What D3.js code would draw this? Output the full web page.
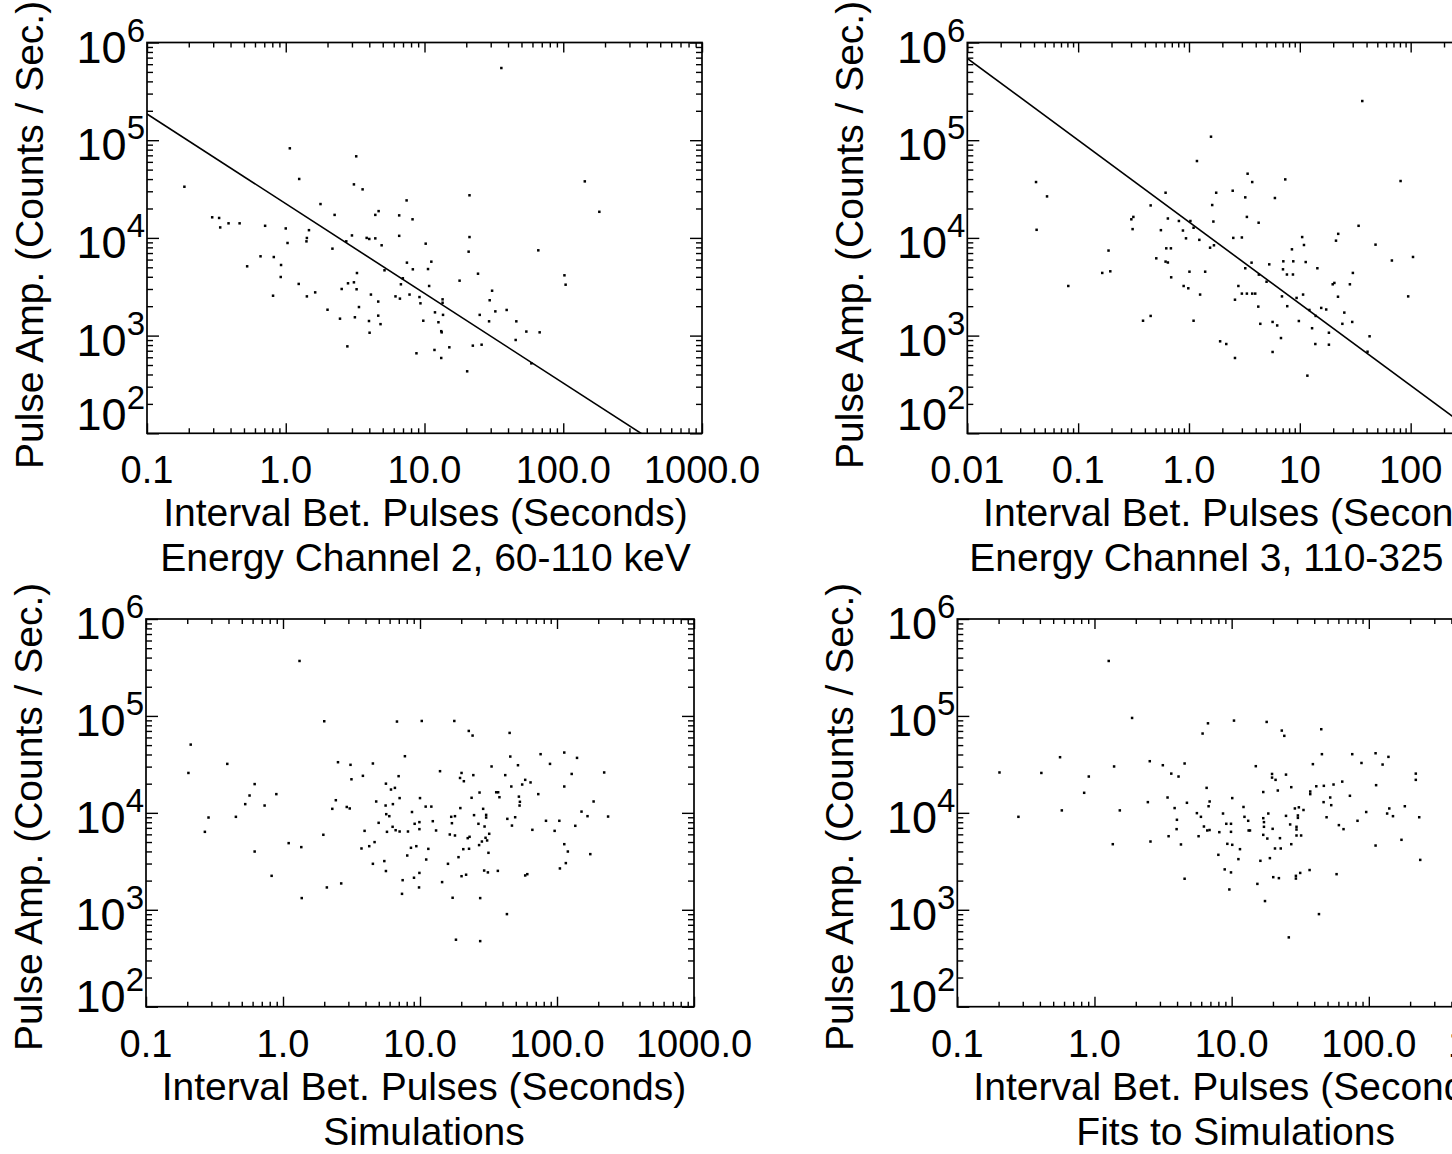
<!DOCTYPE html>
<html><head><meta charset="utf-8">
<script src="https://cdn.jsdelivr.net/npm/d3@7"></script>
<style>
body{margin:0;background:#fff}
svg{display:block;overflow:hidden}
text{font-family:"Liberation Sans",Arial,Helvetica,sans-serif;fill:#000}
</style>
</head><body>
<svg id="chart" width="1452" height="1154"></svg>
<script>
// ---------------- data ----------------
const ch2Points = [[0.186,33400],[0.295,16250],[0.331,16000],[0.337,12800],[0.387,14100],[0.465,14100],[0.527,5120],[0.658,6480],[0.71,13300],[0.82,6370],[0.81,2560],[0.925,5280],[0.92,3980],[1.0,12500],[1.03,8870],[1.07,82600],[1.25,40100],[1.24,3380],[1.42,9980],[1.41,9220],[1.47,12000],[1.42,2520],[1.63,2770],[1.78,22200],[2.25,17200],[2.17,7760],[2.0,1840],[2.46,1490],[2.53,3000],[2.73,9220],[2.81,3430],[2.78,776],[3.0,10600],[3.1,35300],[3.22,68400],[3.1,3510],[3.26,4370],[3.24,2980],[3.15,1540],[3.37,1960],[3.58,31400],[3.83,10000],[4.0,9750],[4.11,2630],[3.98,1410],[4.02,1070],[4.42,17200],[4.67,18800],[4.42,9890],[4.91,8400],[4.64,2230],[4.64,1600],[4.82,1310],[5.15,4660],[6.57,17000],[6.57,10500],[7.43,24200],[8.2,15500],[7.47,5580],[6.98,3860],[6.76,3350],[8.24,4770],[7.8,2630],[6.18,2520],[6.65,2390],[9.2,2480],[9.35,2140],[9.8,1420],[8.75,659],[10.2,8730],[10.6,4800],[10.8,3220],[11.2,5710],[13.5,2350],[13.5,2170],[13.6,1630],[11.9,1730],[12.6,1370],[13.2,1110],[13.3,1080],[11.8,713],[15.1,759],[13.2,590],[20.3,431],[21.1,27300],[21.1,10200],[20.8,7230],[24.3,4300],[17.9,3650],[22.3,789],[25.8,807],[25.0,1630],[30.7,2880],[29.5,2300],[32.4,1770],[29.2,1400],[39.1,1830],[45.9,1400],[54.2,1100],[67.6,1080],[45.4,902],[58.9,520],[66.1,7460],[35.8,548000],[143,37900],[182,18500],[102,4140],[104,3320]];

const ch3Points = [[0.0417,37300],[0.0524,26600],[0.0422,12100],[0.0815,3220],[0.165,4380],[0.195,4550],[0.188,7420],[0.302,15500],[0.315,16400],[0.31,12300],[0.451,21500],[0.385,1420],[0.451,1590],[0.507,6180],[0.558,12000],[0.615,29000],[0.645,15800],[0.624,7820],[0.687,7820],[0.615,5720],[0.645,5600],[0.691,3950],[0.811,14900],[0.882,11900],[0.94,9900],[0.895,3220],[0.986,3050],[1.01,4510],[1.03,14900],[1.10,12700],[1.24,9550],[1.18,61200],[1.26,2630],[1.10,1420],[1.40,4510],[1.55,7940],[1.68,8400],[1.58,108600],[1.62,21700],[1.66,14700],[1.76,29000],[2.48,30400],[2.51,10000],[3.0,10100],[3.22,26000],[3.33,16400],[3.38,45400],[3.72,37300],[4.25,14300],[3.67,5580],[3.22,4890],[4.27,4210],[2.79,3220],[3.0,2690],[3.33,2690],[3.72,2690],[3.96,2690],[2.6,2330],[4.22,1980],[4.40,1320],[1.91,874],[2.17,820],[2.6,590],[5.68,680],[5.3,5360],[5.01,3560],[5.96,25600],[7.39,39700],[5.68,1380],[6.25,1270],[6.76,944],[7.1,5760],[7.05,4770],[7.65,4220],[8.49,7640],[8.73,5760],[8.67,4220],[6.9,2520],[7.7,2000],[9.35,2430],[9.8,1410],[10.5,10200],[10.9,8460],[11.3,5660],[10.7,2630],[12.2,1830],[12.9,1190],[13.8,820],[11.7,389],[13.9,1590],[14.4,4890],[15.6,1920],[17.3,1850],[18.3,1070],[18.3,807],[19.8,3350],[20.5,3460],[22.1,2500],[21.2,9370],[22.2,11000],[25.2,1720],[24.2,1320],[28.3,3350],[30.1,4380],[29.7,1380],[33.9,13300],[36.6,251700],[42.6,984],[40.8,684],[48.2,8530],[67.7,5870],[81.1,38200],[95,2520],[105,6380]];

const simPoints = [[0.212,50600],[0.204,25800],[0.286,8950],[0.269,6370],[0.392,32000],[0.453,9100],[0.53,12300],[0.57,15100],[0.621,19800],[0.734,11900],[0.621,3990],[0.894,15600],[0.826,2240],[1.10,4870],[1.36,4430],[1.37,1320],[1.32,369000],[2.0,88100],[1.97,5940],[2.09,1700],[2.29,11000],[2.43,13500],[2.52,33300],[2.66,1870],[2.92,11500],[3.07,11100],[3.11,31300],[3.16,22200],[3.83,24100],[3.94,6520],[3.74,4290],[4.26,4530],[4.53,32300],[4.79,13100],[4.53,2980],[4.66,4990],[4.99,7890],[5.49,3180],[5.64,2510],[5.64,20000],[5.61,11900],[5.67,9690],[5.97,9240],[5.74,6370],[6.14,17400],[6.56,18100],[6.34,12300],[6.31,7180],[6.64,6620],[7.1,6420],[6.79,87500],[7.76,38400],[6.98,23900],[7.1,14200],[7.47,2020],[7.39,1460],[8.07,3630],[8.17,6420],[8.59,4360],[8.74,10200],[9.14,7710],[9.4,4530],[9.04,2140],[9.84,1700],[9.9,8020],[9.9,6790],[10.0,14200],[9.9,2400],[10.3,88700],[11.0,11600],[12.1,11600],[12.4,8200],[13.1,6580],[11.5,4250],[11.1,3300],[14.0,26900],[14.5,1930],[16.0,2980],[16.5,5980],[16.9,9100],[17.1,7820],[18.0,9240],[18.0,5840],[17.8,88700],[17.3,1330],[18.3,491],[19.1,3490],[19.7,11200],[19.6,22900],[20.9,21200],[20.1,25800],[20.1,2220],[21.7,2300],[20.7,4220],[22.3,5480],[22.8,4260],[23.0,5660],[22.7,70000],[24.2,62700],[23.8,14300],[24.5,24500],[24.8,9470],[27.2,16200],[26.7,7710],[27.0,4650],[27.5,1320],[27.5,475],[28.3,5060],[28.9,11000],[30.4,9530],[30.4,8950],[29.6,7230],[30.1,5530],[30.9,5190],[32.0,6080],[31.6,3870],[29.4,2540],[31.3,2430],[33.3,30100],[37.2,16300],[36.0,16300],[38.0,14500],[37.0,2520],[41.9,24500],[45.6,38100],[45.1,66800],[46.4,18700],[46.9,7390],[43.4,8670],[43.1,902],[49.5,9010],[51.9,31000],[52.7,14700],[53.6,13000],[53.3,11900],[55.7,19600],[58.6,21900],[64.1,20600],[58.6,2260],[60.7,2330],[66.1,6680],[73.0,15600],[75.9,40300],[83.1,8280],[88.9,32000],[96.1,6520],[104,8280],[105,2670],[113,41900],[113,18700],[113,4750],[116,3030],[120,3990],[128,25200],[136,7350],[140,36900],[151,10300],[167,9240],[175,3750],[185,13100],[221,26100],[236,9160]];

const fitSimPoints = [[0.203,26100],[0.279,9100],[0.41,25800],[0.561,37500],[0.578,10600],[0.841,16100],[0.909,23700],[1.27,369000],[1.36,4750],[1.39,30100],[1.53,10600],[1.88,95300],[2.45,12900],[2.53,34100],[2.56,5060],[3.15,31000],[3.41,14400],[3.47,5740],[3.63,25400],[3.84,11200],[3.99,8480],[3.97,6790],[4.1,23700],[4.27,4720],[4.54,32300],[4.72,12700],[4.54,2090],[5.58,9930],[5.97,9100],[5.74,5740],[6.14,65800],[6.72,83900],[6.57,18100],[6.91,13100],[6.79,11700],[6.28,7230],[6.64,6580],[6.9,6650],[8.65,9840],[9.14,7710],[9.89,7710],[9.89,6370],[10.1,14200],[10.4,89500],[9.3,4790],[10.1,4680],[8.0,3690],[8.9,2610],[9.89,2430],[9.62,1620],[8.13,6320],[11.2,3330],[11.5,4220],[12.2,11500],[12.4,9100],[13.2,8280],[13.3,6580],[13.6,6580],[15.0,30300],[15.4,1850],[16.2,3200],[17.0,16400],[17.0,8810],[17.2,8020],[17.2,7180],[17.0,5930],[17.5,1230],[18.0,86700],[18.5,9840],[18.2,5430],[19.0,3410],[19.7,25200],[19.7,23100],[19.9,6840],[20.9,21900],[20.1,2170],[20.7,4290],[21.7,17000],[22.1,2120],[22.5,5480],[22.8,4290],[23.2,70600],[24.2,62300],[24.9,24800],[24.9,9310],[26.7,7590],[27.2,18400],[27.2,4750],[26.1,519],[28.9,11100],[30.4,9400],[30.4,8880],[30.9,11400],[29.7,7180],[29.7,6730],[29.7,5840],[32.1,5840],[29.4,2240],[29.4,2100],[31.6,2400],[33.4,10700],[37.0,2570],[37.4,16600],[37.4,15600],[39.1,31800],[41.4,18800],[43.3,902],[45.0,72900],[45.5,40300],[46.8,12900],[47.0,19000],[49.2,9010],[52.3,14400],[53.2,12000],[55.3,19600],[58.2,2330],[60.5,7470],[64.0,21000],[65.4,6790],[72.8,15000],[75.7,40300],[82.7,8280],[88.4,32700],[95.7,10200],[112,41200],[113,19300],[112,4600],[126,31500],[139,37800],[141,11100],[136,9840],[150,9240],[173,5270],[183,11700],[220,25400],[220,21900],[233,9010],[237,3270]];

// power-law fits: y = norm * x^index
const ch2Fit = {norm: 22400, index: -0.918};
const ch3Fit = {norm: 14550, index: -0.837};

const xTicksA = [0.1, 1, 10, 100, 1000];
const xTickLabelsA = ["0.1", "1.0", "10.0", "100.0", "1000.0"];
const xTicksB = [0.01, 0.1, 1, 10, 100, 1000];
const xTickLabelsB = ["0.01", "0.1", "1.0", "10", "100", "1000"];
const yTicks = [1e2, 1e3, 1e4, 1e5, 1e6];
const yTickExponents = ["2", "3", "4", "5", "6"];
const yTitle = "Pulse Amp. (Counts / Sec.)";
const xTitle = "Interval Bet. Pulses (Seconds)";
const subtitles = ["Energy Channel 2, 60-110 keV", "Energy Channel 3, 110-325 keV", "Simulations", "Fits to Simulations"];

// ---------------- layout ----------------
const panels = [
  {pts: ch2Points, fit: ch2Fit, xDomain: [0.1, 1000], xt: xTicksA, xl: xTickLabelsA, sub: subtitles[0],
   left: 147, right: 702, top: 42.5, bottom: 433.3, lastDy: -3, yTitleDy: -3, xTitleDx: 1},
  {pts: ch3Points, fit: ch3Fit, xDomain: [0.01, 1000], xt: xTicksB, xl: xTickLabelsB, sub: subtitles[1],
   left: 967.3, right: 1521.5, top: 42.5, bottom: 433.3, lastDy: -3, yTitleDy: -3, xTitleDx: 1},
  {pts: simPoints, fit: null, xDomain: [0.1, 1000], xt: xTicksA, xl: xTickLabelsA, sub: subtitles[2],
   left: 146, right: 694, top: 619, bottom: 1006.7, lastDy: 5, yTitleDy: 4, xTitleDx: 4},
  {pts: fitSimPoints, fit: null, xDomain: [0.1, 1000], xt: xTicksA, xl: xTickLabelsA, sub: subtitles[3],
   left: 957.3, right: 1506, top: 619, bottom: 1006.7, lastDy: 5, yTitleDy: 4, xTitleDx: 4}
];

const svg = d3.select("#chart");
svg.append("rect").attr("width", 1452).attr("height", 1154).attr("fill", "#fff");

function minorTicks(domain) {
  const out = [];
  const d0 = Math.round(Math.log10(domain[0])), d1 = Math.round(Math.log10(domain[1]));
  for (let d = d0; d < d1; d++) for (let k = 2; k <= 9; k++) out.push(k * Math.pow(10, d));
  return out;
}

panels.forEach((p, i) => {
  const x = d3.scaleLog().domain(p.xDomain).range([p.left, p.right]);
  const y = d3.scaleLog().domain([1e2, 1e6]).range([p.bottom, p.top]);
  const g = svg.append("g");
  const clipId = "clip" + i;
  svg.append("clipPath").attr("id", clipId).append("rect")
    .attr("x", p.left).attr("y", p.top).attr("width", p.right - p.left).attr("height", p.bottom - p.top);

  const xMaj = p.xt, xMin = minorTicks(p.xDomain);
  const yMaj = yTicks, yMin = minorTicks([1e2, 1e6]);

  const style = sel => { sel.select(".domain").remove(); sel.selectAll("line").attr("stroke", "#000").attr("stroke-width", 1.4); sel.selectAll("text").remove(); };
  g.append("g").attr("transform", `translate(0,${p.bottom})`).call(d3.axisBottom(x).tickValues(xMaj).tickSize(-10).tickFormat("")).call(style);
  g.append("g").attr("transform", `translate(0,${p.bottom})`).call(d3.axisBottom(x).tickValues(xMin).tickSize(-5).tickFormat("")).call(style);
  g.append("g").attr("transform", `translate(0,${p.top})`).call(d3.axisTop(x).tickValues(xMaj).tickSize(-10).tickFormat("")).call(style);
  g.append("g").attr("transform", `translate(0,${p.top})`).call(d3.axisTop(x).tickValues(xMin).tickSize(-5).tickFormat("")).call(style);
  g.append("g").attr("transform", `translate(${p.left},0)`).call(d3.axisLeft(y).tickValues(yMaj).tickSize(-12).tickFormat("")).call(style);
  g.append("g").attr("transform", `translate(${p.left},0)`).call(d3.axisLeft(y).tickValues(yMin).tickSize(-6).tickFormat("")).call(style);
  g.append("g").attr("transform", `translate(${p.right},0)`).call(d3.axisRight(y).tickValues(yMaj).tickSize(-12).tickFormat("")).call(style);
  g.append("g").attr("transform", `translate(${p.right},0)`).call(d3.axisRight(y).tickValues(yMin).tickSize(-6).tickFormat("")).call(style);

  g.append("rect").attr("x", p.left).attr("y", p.top).attr("width", p.right - p.left).attr("height", p.bottom - p.top)
    .attr("fill", "none").attr("stroke", "#000").attr("stroke-width", 1.7);

  // points
  g.append("g").attr("clip-path", `url(#${clipId})`).selectAll("rect").data(p.pts).join("rect")
    .attr("x", d => x(d[0]) - 1.25).attr("y", d => y(d[1]) - 1.25)
    .attr("width", 2.5).attr("height", 2.5).attr("fill", "#000");

  // fit line
  if (p.fit) {
    const f = p.fit;
    const ends = p.xDomain.map(v => [v, f.norm * Math.pow(v, f.index)]);
    g.append("path").attr("clip-path", `url(#${clipId})`)
      .attr("d", d3.line().x(d => x(d[0])).y(d => y(d[1]))(ends))
      .attr("fill", "none").attr("stroke", "#000").attr("stroke-width", 1.6);
  }

  // x tick labels
  g.selectAll("text.xl").data(xMaj).join("text").attr("class", "xl")
    .attr("x", d => x(d)).attr("y", p.bottom + 50)
    .attr("text-anchor", "middle").attr("font-size", 38)
    .text((d, j) => p.xl[j]);

  // y tick labels 10^n
  yMaj.forEach((v, j) => {
    const t = g.append("text").attr("text-anchor", "end")
      .attr("x", p.left - 2).attr("y", y(v) + (j === 0 ? p.lastDy : 20));
    t.append("tspan").attr("font-size", 45).text("10");
    t.append("tspan").attr("font-size", 33).attr("dy", -21).text(yTickExponents[j]);
  });

  // axis titles
  const cx = (p.left + p.right) / 2 + p.xTitleDx;
  g.append("text").attr("x", cx).attr("y", p.bottom + 93).attr("text-anchor", "middle").attr("font-size", 39).text(xTitle);
  g.append("text").attr("x", cx).attr("y", p.bottom + 138).attr("text-anchor", "middle").attr("font-size", 39).text(p.sub);
  const cy = (p.top + p.bottom) / 2 + p.yTitleDy;
  g.append("text").attr("transform", `translate(${p.left - 104},${cy}) rotate(-90)`)
    .attr("text-anchor", "middle").attr("font-size", 39).text(yTitle);
});
</script>
</body></html>
